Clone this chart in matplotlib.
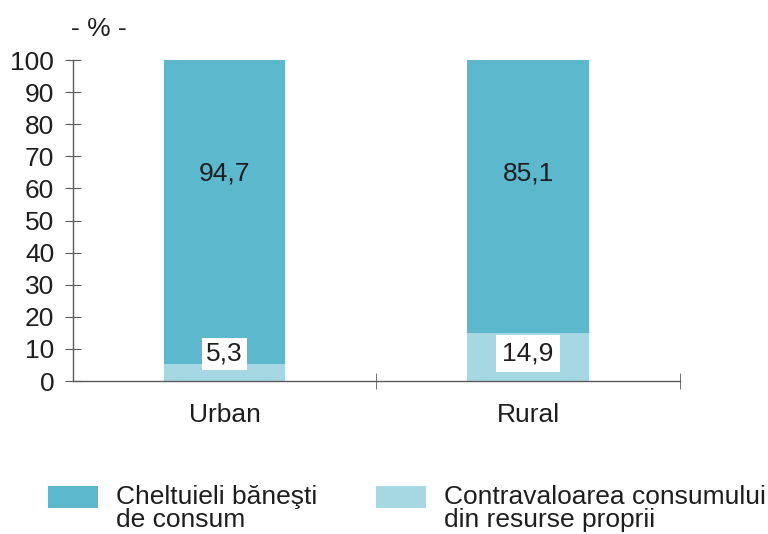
import matplotlib
matplotlib.use('Agg')
import matplotlib.pyplot as plt
from matplotlib.patches import Patch, Rectangle
from matplotlib.legend_handler import HandlerPatch

plt.rcParams['font.family'] = ['Liberation Sans', 'DejaVu Sans']

# structura cheltuielilor de consum, %
areas = ['Urban', 'Rural']
own_resources = [5.3, 14.9]
money_spending = [94.7, 85.1]
series_names = ['Cheltuieli băneşti\nde consum',
                'Contravaloarea consumului\ndin resurse proprii']

dark = '#5bb8cd'
light = '#a5d8e2'
axis_color = '#5a5a5a'
text_color = '#1e1e1e'
fs = 19

fig = plt.figure(figsize=(7.68, 5.34), dpi=100)
ax = fig.add_axes([0.095, 0.2865, 0.79, 0.6011])

x = range(len(areas))
ax.bar(x, own_resources, width=0.4, color=light)
ax.bar(x, money_spending, width=0.4, bottom=own_resources, color=dark)

# etichetele segmentelor mari, la aceeasi inaltime
for i, v in enumerate(money_spending):
    ax.text(i, 64.5, f'{v:.1f}'.replace('.', ','), ha='center', va='center',
            fontsize=fs, color=text_color)

# etichetele segmentelor mici, pe fond alb
small_pad = [0.15, 0.25]
for i, v in enumerate(own_resources):
    ax.text(i, 8.5, f'{v:.1f}'.replace('.', ','), ha='center', va='center',
            fontsize=fs, color=text_color,
            bbox=dict(facecolor='white', edgecolor='none',
                      boxstyle=f'square,pad={small_pad[i]}'))

ax.set_xlim(-0.5, 1.5)
ax.set_ylim(0, 100)
ax.set_yticks(range(0, 101, 10))
ax.set_xticks(list(x))
ax.set_xticklabels(areas)
ax.set_xticks([0.5, 1.5], minor=True)

for side in ('top', 'right'):
    ax.spines[side].set_visible(False)
for side in ('left', 'bottom'):
    ax.spines[side].set_color(axis_color)
    ax.spines[side].set_linewidth(1.0)

ax.tick_params(axis='y', direction='inout', length=11, color=axis_color,
               labelsize=fs, labelcolor=text_color, pad=8)
ax.tick_params(axis='x', which='major', length=0, labelsize=fs,
               labelcolor=text_color, pad=16)
ax.tick_params(axis='x', which='minor', direction='inout', length=11,
               color=axis_color)

fig.text(0.092, 0.945, '- % -', fontsize=fs, color=text_color, ha='left', va='center')


def raised_box(legend, orig_handle, xdescent, ydescent, width, height, fontsize):
    # patratul legendei, ridicat in dreptul primului rand de text
    return Rectangle((-xdescent, -ydescent + 0.45 * fontsize), width, height)


handles = [Patch(facecolor=dark, edgecolor='none'),
           Patch(facecolor=light, edgecolor='none')]
leg = fig.legend(handles, series_names, loc='upper left', bbox_to_anchor=(0.062, 0.092),
                 ncol=2, frameon=False, fontsize=fs, handlelength=1.9, handleheight=0.95,
                 handletextpad=0.7, columnspacing=2.2, borderpad=0, borderaxespad=0,
                 labelspacing=0, labelcolor=text_color,
                 handler_map={Patch: HandlerPatch(patch_func=raised_box)})
for t in leg.get_texts():
    t.set_linespacing(0.95)

fig.savefig('out.png', dpi=100)
